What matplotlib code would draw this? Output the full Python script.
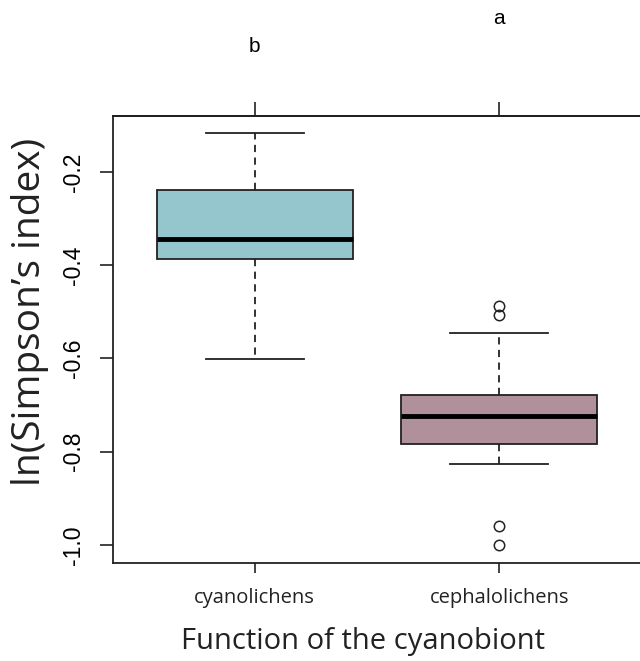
import matplotlib
matplotlib.use("Agg")
import matplotlib.pyplot as plt

# Box statistics (ln of Simpson's index)
groups = ["cyanolichens", "cephalolichens"]
q1 = [-0.386, -0.784]
med = [-0.343, -0.723]
q3 = [-0.238, -0.678]
whislo = [-0.601, -0.827]
whishi = [-0.116, -0.546]
outliers = [[], [-0.487, -0.507, -0.959, -1.0]]
letters = ["b", "a"]
letter_y = [0.069, 0.130]
colors = ["#95c6cd", "#b0919b"]
yticks = [-1.0, -0.8, -0.6, -0.4, -0.2]

fig = plt.figure(figsize=(6.4, 6.61), dpi=100)
ax = fig.add_axes([113 / 640, 1 - 563 / 661, 528 / 640, (563 - 116) / 661])

stats = []
for i, g in enumerate(groups):
    stats.append(dict(label=g, q1=q1[i], med=med[i], q3=q3[i],
                      whislo=whislo[i], whishi=whishi[i], fliers=outliers[i]))

bp = ax.bxp(stats, positions=[1, 2], widths=0.8, patch_artist=True,
            showcaps=True,
            boxprops=dict(linewidth=1.3, edgecolor="#222222"),
            medianprops=dict(color="black", linewidth=3.5, solid_capstyle="butt"),
            whiskerprops=dict(color="#222222", linewidth=1.3, linestyle=(0, (4, 3))),
            capprops=dict(color="#222222", linewidth=1.3),
            capwidths=0.4,
            flierprops=dict(marker="o", markerfacecolor="none", markeredgecolor="#222222",
                            markersize=7.5, markeredgewidth=1.1))
for patch, c in zip(bp["boxes"], colors):
    patch.set_facecolor(c)

ax.set_xlim(0.42, 2.58)
ax.set_ylim(-1.0386, -0.08)

for s in ax.spines.values():
    s.set_linewidth(1.3)
    s.set_color("#222222")

ax.set_yticks(yticks)
ax.set_yticklabels([f"{v:.1f}" for v in yticks], rotation=90, va="center",
                   fontsize=16.5, family="Liberation Sans")
ax.tick_params(axis="y", length=9.5, width=1.2, pad=11, color="#222222")

ax.set_xticks([1, 2])
ax.set_xticklabels(groups, fontsize=14.5, family="Open Sans", color="#222222")
ax.tick_params(axis="x", length=7, width=1.2, pad=11, color="#222222")

top = ax.secondary_xaxis("top")
top.set_xticks([1, 2])
top.set_xticklabels([])
top.tick_params(length=10, width=1.2, color="#222222")
top.spines["top"].set_linewidth(1.3)

for x, t, y in zip([1, 2], letters, letter_y):
    ax.text(x, y, t, ha="center", va="center", fontsize=15,
            family="Liberation Sans", clip_on=False)

ax.set_ylabel("ln(Simpson\u2019s index)", fontsize=28, family="Open Sans",
              color="#222222")
ax.yaxis.set_label_coords(-0.122, 0.562)
ax.set_xlabel("Function of the cyanobiont", fontsize=21, family="Open Sans",
              color="#222222")
ax.xaxis.set_label_coords(0.474, -0.143)

fig.savefig("out.png", dpi=100)
